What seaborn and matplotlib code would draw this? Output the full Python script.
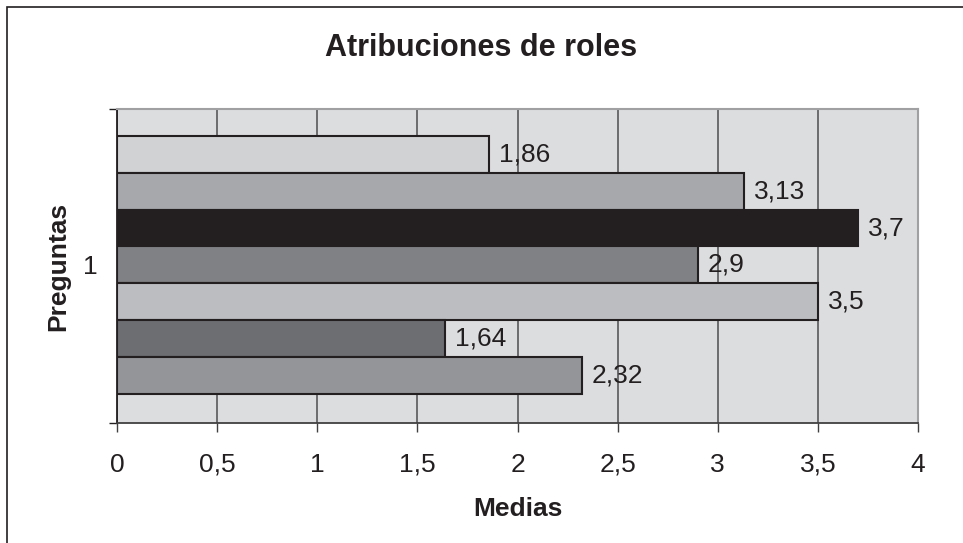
import matplotlib
matplotlib.use('Agg')
import matplotlib.pyplot as plt
import seaborn as sns
import pandas as pd
from matplotlib.patches import Rectangle

# Basic style
sns.set_style("white")
plt.rcParams['font.family'] = ['Liberation Sans', 'DejaVu Sans']

# Data (top to bottom as drawn)
series = ['P1', 'P2', 'P3', 'P4', 'P5', 'P6', 'P7']
medias = [1.86, 3.13, 3.7, 2.9, 3.5, 1.64, 2.32]
bar_colors = ['#d1d2d4', '#a7a8ab', '#231f20', '#808184', '#bcbdc0', '#6d6e71', '#939598']
x_ticks = [0, 0.5, 1, 1.5, 2, 2.5, 3, 3.5, 4]
category_label = '1'

df = pd.DataFrame({'serie': series, 'media': medias})

fig = plt.figure(figsize=(9.63, 5.43), dpi=100)
fig.patch.set_facecolor('white')
ax = fig.add_axes([117 / 963, 1 - 423 / 543, 801 / 963, 314 / 543])
ax.set_facecolor('#dcdddf')

sns.barplot(data=df, x='media', y='serie', hue='serie', palette=bar_colors,
            orient='h', width=1, edgecolor='#231f20', linewidth=1.5,
            saturation=1, legend=False, ax=ax, zorder=3)

# Value labels
for i, v in enumerate(medias):
    ax.annotate(f'{v:g}'.replace('.', ','), xy=(v, i), xytext=(7, 0),
                textcoords='offset points', va='center', ha='left',
                fontsize=19, color='#231f20', zorder=4)

# Axes ranges
ax.set_xlim(0, 4)
ax.set_ylim(7.29, -1.23)

# x axis
ax.set_xticks(x_ticks)
ax.set_xticklabels([f'{t:g}'.replace('.', ',') for t in x_ticks])
ax.tick_params(axis='x', direction='out', length=6.5, width=1, color='#404040',
               pad=15, labelsize=19, labelcolor='#231f20', bottom=True)
ax.grid(axis='x', color='#4d4d4f', linewidth=1.1, zorder=1)
ax.set_axisbelow(True)

# y axis: single category label, boundary ticks
ax.set_yticks([3])
ax.set_yticklabels([category_label])
ax.tick_params(axis='y', which='major', length=0, pad=14, labelsize=19,
               labelcolor='#231f20')
ax.set_yticks([7.29, -1.23], minor=True)
ax.tick_params(axis='y', which='minor', direction='out', length=6, width=1,
               color='#231f20', left=True)

# Spines
for side in ['top', 'right']:
    ax.spines[side].set_color('#a0a0a2')
    ax.spines[side].set_linewidth(1.5)
ax.spines['left'].set_color('#231f20')
ax.spines['left'].set_linewidth(1.3)
ax.spines['bottom'].set_color('#404040')
ax.spines['bottom'].set_linewidth(1.3)

# Labels and title
ax.set_xlabel('Medias', fontsize=19, fontweight='bold', color='#231f20')
ax.xaxis.set_label_coords(0.5, -0.235)
ax.set_ylabel('Preguntas', fontsize=19, fontweight='bold', color='#231f20')
ax.yaxis.set_label_coords(-0.058, 0.5)
fig.suptitle('Atribuciones de roles', fontsize=22, fontweight='bold',
             color='#231f20', y=1 - 48 / 543, va='center')

# Outer frame (cut off on the right and bottom)
fig.patches.append(Rectangle((6.5 / 963, -0.2), 1.2, 1.2 - 6.5 / 543,
                             transform=fig.transFigure, fill=False,
                             edgecolor='#231f20', linewidth=1.2))

plt.savefig('out.png', dpi=100, facecolor='white')
plt.close()
